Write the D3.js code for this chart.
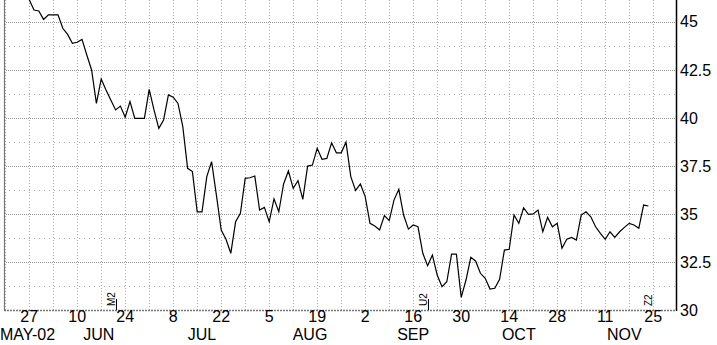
<!DOCTYPE html>
<html>
<head>
<meta charset="utf-8">
<script src="https://cdn.jsdelivr.net/npm/d3@7"></script>
<style>
  body { margin: 0; background: #fff; }
  text { font-family: "Liberation Sans", Arial, sans-serif; fill: #000; }
</style>
</head>
<body>
<svg id="chart" width="717" height="345"></svg>
<script>
// daily closes, one per weekday starting Mon 27 May 2002
var prices = [
  46.15, 45.61, 45.56, 45.12, 45.36, 45.36, 45.36, 44.66, 44.34, 43.88,
  43.93, 44.08, 43.27, 42.49, 40.75, 42.02, 41.45, 40.93, 40.41, 40.61,
  40.03, 40.84, 39.97, 39.97, 39.97, 41.48, 40.41, 39.45, 39.89, 41.19,
  41.07, 40.75, 39.54, 37.37, 37.20, 35.11, 35.11, 36.94, 37.72, 35.98,
  34.16, 33.68, 32.95, 34.59, 35.03, 36.85, 36.88, 36.97, 35.20, 35.34,
  34.59, 35.78, 35.11, 36.56, 37.23, 36.33, 36.73, 35.76, 37.49, 37.54,
  38.41, 37.84, 37.89, 38.70, 38.18, 38.18, 38.73, 36.94, 36.22, 36.56,
  35.90, 34.51, 34.37, 34.16, 34.91, 34.65, 35.72, 36.28, 34.94, 34.21,
  34.42, 34.33, 32.95, 32.30, 32.86, 31.82, 31.21, 31.47, 32.91, 32.91,
  30.66, 31.56, 32.74, 32.55, 31.91, 31.65, 31.09, 31.13, 31.60, 33.12,
  33.16, 34.94, 34.51, 35.32, 34.98, 35.00, 35.20, 34.07, 34.82, 34.33,
  34.51, 33.21, 33.68, 33.78, 33.64, 34.94, 35.11, 34.85, 34.33, 33.99,
  33.68, 34.07, 33.78, 34.07, 34.30, 34.51, 34.42, 34.25, 35.46, 35.41
];
var startDate = new Date(2002, 4, 27);

var dayTicks = ["2002-05-27", "2002-06-10", "2002-06-24", "2002-07-08", "2002-07-22",
  "2002-08-05", "2002-08-19", "2002-09-02", "2002-09-16", "2002-09-30",
  "2002-10-14", "2002-10-28", "2002-11-11", "2002-11-25"];
var gridWeeks = ["2002-05-20", "2002-05-27", "2002-06-03", "2002-06-10", "2002-06-17",
  "2002-06-24", "2002-07-01", "2002-07-08", "2002-07-15", "2002-07-22", "2002-07-29",
  "2002-08-05", "2002-08-12", "2002-08-19", "2002-08-26", "2002-09-02", "2002-09-09",
  "2002-09-16", "2002-09-23", "2002-09-30", "2002-10-07", "2002-10-14", "2002-10-21",
  "2002-10-28", "2002-11-04", "2002-11-11", "2002-11-18", "2002-11-25"];
var months = ["MAY-02", "JUN", "JUL", "AUG", "SEP", "OCT", "NOV"];
var monthNums = [4, 5, 6, 7, 8, 9, 10];
var yTicks = [30, 32.5, 35, 37.5, 40, 42.5, 45];
var yMinor = [31.25, 33.75, 36.25, 38.75, 41.25, 43.75, 46.25];
var contracts = ["M2", "U2", "Z2"];
var contractDates = ["2002-06-20", "2002-09-19", "2002-11-25"];
var contractLine = [true, true, false];

var parse = d3.timeParse("%Y-%m-%d");

// number of weekdays between startDate and d
function wd(d) {
  var n = 0, t = new Date(startDate), step = d >= startDate ? 1 : -1;
  while (+t !== +d) {
    t.setDate(t.getDate() + step);
    var day = t.getDay();
    if (day !== 0 && day !== 6) n += step;
  }
  return n;
}
function firstWeekday(yr, m) {
  var d = new Date(yr, m, 1);
  while (d.getDay() === 0 || d.getDay() === 6) d.setDate(d.getDate() + 1);
  return d;
}
function lastWeekday(yr, m) {
  var d = new Date(yr, m + 1, 0);
  while (d.getDay() === 0 || d.getDay() === 6) d.setDate(d.getDate() - 1);
  return d;
}

var pl = 4, pr = 676, pt = 0, pb = 310;
var x = d3.scaleLinear().domain([-5.25, 134.75]).range([pl, pr]);
var y = d3.scaleLinear().domain([30, 46.13]).range([pb, pt]);

var svg = d3.select('#chart');

svg.append('clipPath').attr('id', 'clip').append('rect')
  .attr('x', pl).attr('y', pt).attr('width', pr - pl).attr('height', pb - pt);

// grid
svg.append('g').selectAll('line').data(yMinor).enter().append('line')
  .attr('x1', pl).attr('x2', pr)
  .attr('y1', function (d) { return Math.round(y(d)) + 0.5; })
  .attr('y2', function (d) { return Math.round(y(d)) + 0.5; })
  .attr('stroke', '#aaa').attr('stroke-dasharray', '1,4');
svg.append('g').selectAll('line').data(yTicks.slice(1)).enter().append('line')
  .attr('x1', pl).attr('x2', pr)
  .attr('y1', function (d) { return Math.round(y(d)) + 0.5; })
  .attr('y2', function (d) { return Math.round(y(d)) + 0.5; })
  .attr('stroke', '#999').attr('stroke-dasharray', '1,1');
svg.append('g').selectAll('line').data(gridWeeks).enter().append('line')
  .attr('x1', function (d) { return Math.round(x(wd(parse(d)))) + 0.5; })
  .attr('x2', function (d) { return Math.round(x(wd(parse(d)))) + 0.5; })
  .attr('y1', pt).attr('y2', pb)
  .attr('stroke', '#aaa').attr('stroke-dasharray', '1,2');

// frame
svg.append('line').attr('x1', pl + 0.5).attr('x2', pl + 0.5).attr('y1', pt).attr('y2', pb)
  .attr('stroke', '#777').attr('stroke-width', 1.2);
svg.append('line').attr('x1', pl).attr('x2', pr).attr('y1', pb + 0.5).attr('y2', pb + 0.5)
  .attr('stroke', '#777').attr('stroke-width', 1.5).attr('stroke-dasharray', '2,1');
svg.append('line').attr('x1', pr + 0.5).attr('x2', pr + 0.5).attr('y1', pt).attr('y2', pb + 1)
  .attr('stroke', '#000').attr('stroke-width', 1.5);

// price line
var line = d3.line()
  .x(function (d, i) { return x(i); })
  .y(function (d) { return y(d); });
svg.append('path').datum(prices)
  .attr('clip-path', 'url(#clip)')
  .attr('d', line)
  .attr('fill', 'none').attr('stroke', '#000').attr('stroke-width', 1.2)
  .attr('stroke-linejoin', 'miter');

// contract markers
var cm = svg.append('g').selectAll('g').data(contracts).enter().append('g')
  .attr('transform', function (d, i) { return 'translate(' + (Math.round(x(wd(parse(contractDates[i])))) + 0.5) + ',0)'; });
cm.append('line')
  .attr('x1', 0).attr('x2', 0).attr('y1', 299).attr('y2', pb)
  .attr('stroke', function (d, i) { return contractLine[i] ? '#000' : 'none'; });
cm.append('text')
  .attr('transform', 'translate(-2,306) rotate(-90)')
  .attr('font-size', 10)
  .text(function (d) { return d; });

// right axis labels
svg.append('g').selectAll('text').data(yTicks).enter().append('text')
  .attr('x', pr + 4).attr('y', function (d) { return y(d); })
  .attr('dy', '0.36em').attr('font-size', 16)
  .text(function (d) { return d; });

// day labels
svg.append('g').selectAll('text').data(dayTicks).enter().append('text')
  .attr('x', function (d) { return x(wd(parse(d))); })
  .attr('y', 322).attr('text-anchor', 'middle').attr('font-size', 16)
  .text(function (d) { return parse(d).getDate(); });

// month labels centred over their weekdays
svg.append('g').selectAll('text').data(months).enter().append('text')
  .each(function (d, i) {
    var a = x(wd(firstWeekday(2002, monthNums[i])));
    var b = x(wd(lastWeekday(2002, monthNums[i])));
    var c = (a + b) / 2;
    var sel = d3.select(this).attr('font-size', 16).attr('y', 340).text(d);
    var w = this.getComputedTextLength();
    if (c - w / 2 < 0) sel.attr('x', 0).attr('text-anchor', 'start');
    else sel.attr('x', c).attr('text-anchor', 'middle');
  });
</script>
</body>
</html>
